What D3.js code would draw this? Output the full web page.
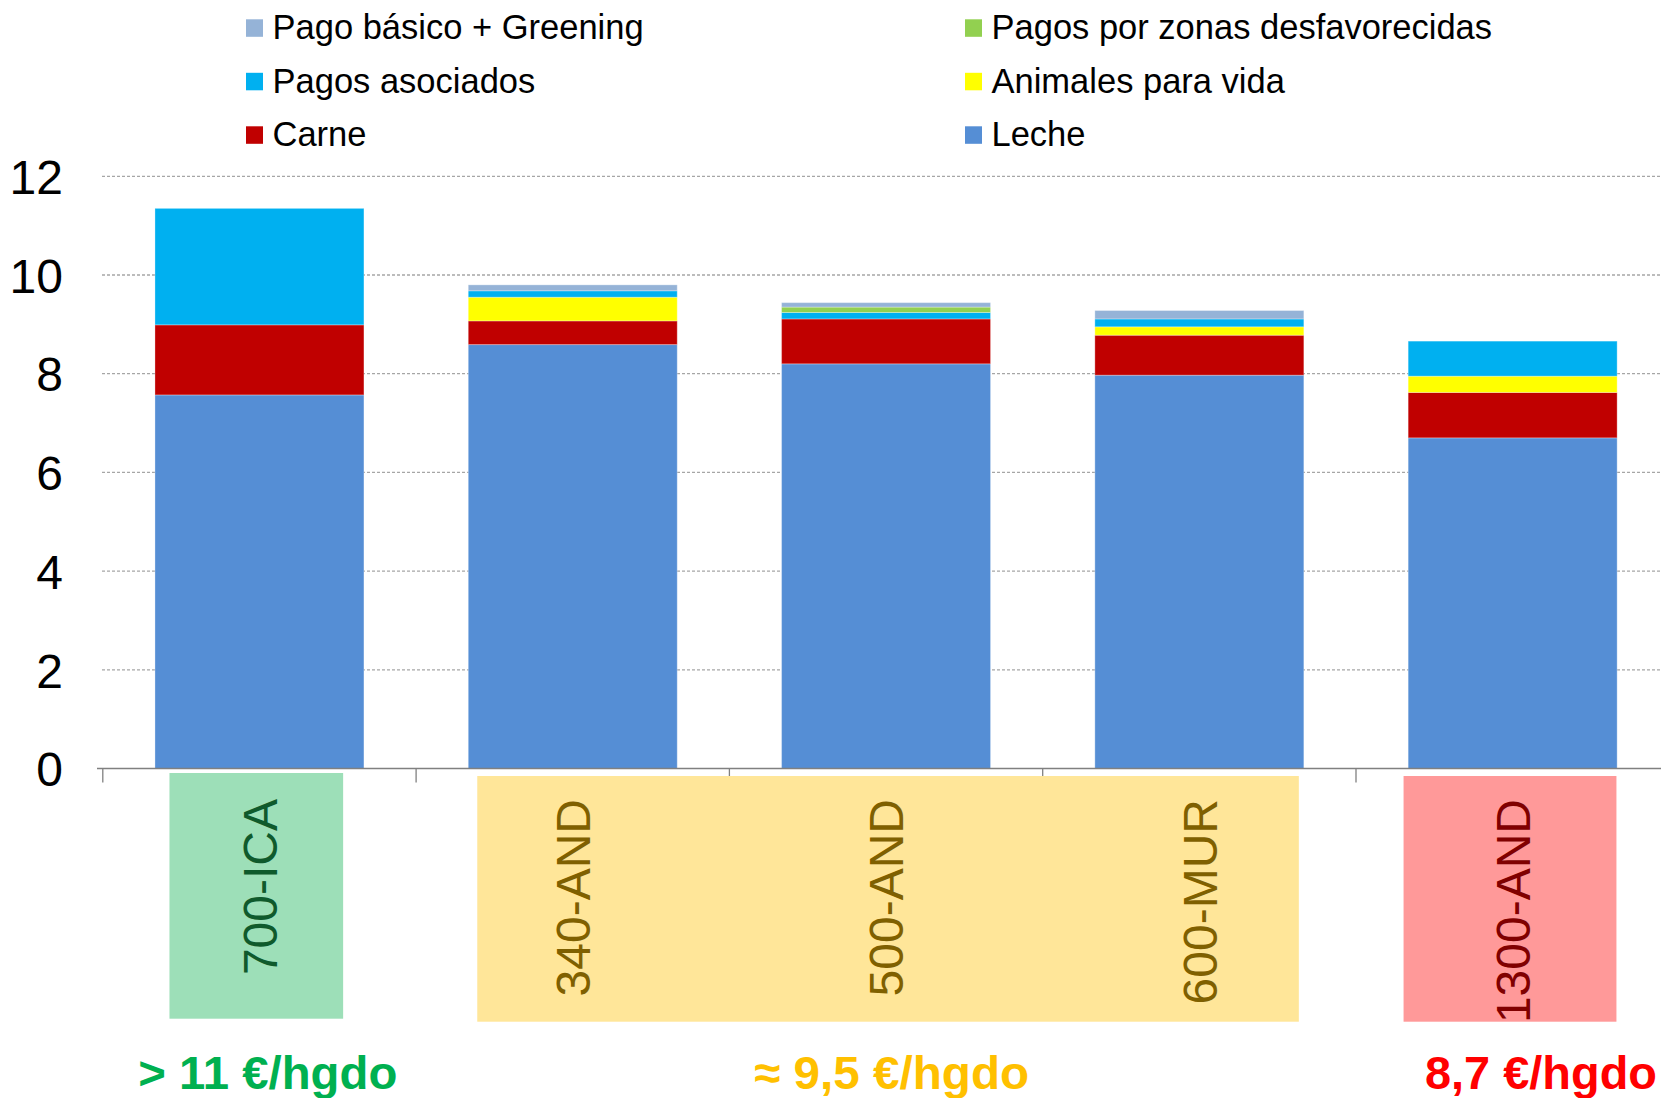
<!DOCTYPE html>
<html>
<head>
<meta charset="utf-8">
<script src="https://cdnjs.cloudflare.com/ajax/libs/d3/7.8.5/d3.min.js"></script>
<style>
  body { margin: 0; background: #fff; }
  svg { display: block; font-family: "Liberation Sans", Arial, sans-serif; }
</style>
</head>
<body>
<svg class="svgChart"></svg>
<script>
// farms (x axis) and the stacked payments, bottom to top, in €/hgdo
var categories = ["700-ICA", "340-AND", "500-AND", "600-MUR", "1300-AND"];
var leche     = [7.57, 8.59, 8.20, 7.97, 6.70];
var carne     = [1.42, 0.48, 0.91, 0.81, 0.92];
var animales  = [0.00, 0.48, 0.00, 0.17, 0.33];
var asociados = [2.36, 0.13, 0.13, 0.16, 0.71];
var zonas     = [0.00, 0.00, 0.11, 0.00, 0.00];
var basico    = [0.00, 0.12, 0.09, 0.17, 0.00];

var seriesNames = ["Leche", "Carne", "Animales para vida", "Pagos asociados",
                   "Pagos por zonas desfavorecidas", "Pago básico + Greening"];
var seriesValues = [leche, carne, animales, asociados, zonas, basico];
var seriesColors = ["#558ed5", "#c00000", "#ffff00", "#00b0f0", "#92d050", "#95b3d7"];

// legend reads left to right, top to bottom
var legendOrder = ["Pago básico + Greening", "Pagos por zonas desfavorecidas",
                   "Pagos asociados", "Animales para vida", "Carne", "Leche"];

var yTicks = [0, 2, 4, 6, 8, 10, 12];

// price groups shown under the axis
var groups = [
  {first: 0, last: 0, fill: "#9ddfb8", ink: "#0f5a2c", price: "> 11 €/hgdo", priceColor: "#00b050"},
  {first: 1, last: 3, fill: "#ffe699", ink: "#7f6000", price: "≈ 9,5 €/hgdo", priceColor: "#ffc000"},
  {first: 4, last: 4, fill: "#ff9999", ink: "#800000", price: "8,7 €/hgdo", priceColor: "#ff0000"}
];

var W = 1661, H = 1098;
var svg = d3.select(".svgChart").attr("width", W).attr("height", H);

var x = d3.scaleBand()
  .domain(categories)
  .range([102.8, 1669.3])
  .paddingInner(0.333)
  .paddingOuter(0.1665);

var y = d3.scaleLinear().domain([0, 12]).range([768.5, 176.3]);

// table for d3.stack
var table = categories.map(function (c, i) {
  var row = {cat: c};
  seriesNames.forEach(function (s, j) { row[s] = seriesValues[j][i]; });
  return row;
});
var stacked = d3.stack().keys(seriesNames)(table);
var color = d3.scaleOrdinal().domain(seriesNames).range(seriesColors);

// gridlines
svg.append("g")
  .selectAll("line")
  .data(yTicks.filter(function (d) { return d > 0; }))
  .enter().append("line")
    .attr("x1", 102).attr("x2", W)
    .attr("y1", function (d) { return y(d); })
    .attr("y2", function (d) { return y(d); })
    .attr("stroke", "#a6a6a6")
    .attr("stroke-width", 1.3)
    .attr("stroke-dasharray", "3,2");

// y labels
var yAxis = d3.axisLeft(y).tickValues(yTicks).tickSize(0).tickPadding(0);
var gy = svg.append("g").attr("transform", "translate(63,0)").call(yAxis);
gy.select(".domain").remove();
gy.selectAll("text")
  .attr("font-size", 48)
  .attr("font-family", "Liberation Sans, Arial, sans-serif")
  .attr("fill", "#000")
  .attr("dy", "0.36em");

// bars
svg.append("g")
  .selectAll("g")
  .data(stacked)
  .enter().append("g")
    .attr("fill", function (d) { return color(d.key); })
  .selectAll("rect")
  .data(function (d) { return d.filter(function (p) { return p[1] - p[0] > 0; }); })
  .enter().append("rect")
    .attr("x", function (d) { return x(d.data.cat); })
    .attr("y", function (d) { return y(d[1]); })
    .attr("width", x.bandwidth())
    .attr("height", function (d) { return y(d[0]) - y(d[1]); })
    .attr("stroke", "rgba(255,255,255,0.3)")
    .attr("stroke-width", 1);

// x axis line and boundary ticks
var gx = svg.append("g").attr("transform", "translate(0," + y(0) + ")");
gx.append("line")
  .attr("x1", 97).attr("x2", W)
  .attr("stroke", "#808080").attr("stroke-width", 1.3);
var step = x.step();
gx.selectAll("line.tick")
  .data(categories)
  .enter().append("line")
    .attr("class", "tick")
    .attr("x1", function (d) { return x(d) - step * 0.1665; })
    .attr("x2", function (d) { return x(d) - step * 0.1665; })
    .attr("y1", 0).attr("y2", 14)
    .attr("stroke", "#808080").attr("stroke-width", 1.3);

// coloured boxes behind category names
var boxInset = [[14.5, 20.8, 4.5], [9, 5, 7.5], [-4.6, 0.7, 7.5]];
var boxes = svg.append("g");
groups.forEach(function (g, i) {
  var x0 = x(categories[g.first]) + boxInset[i][0];
  var x1 = x(categories[g.last]) + x.bandwidth() - boxInset[i][1];
  boxes.append("rect")
    .attr("x", x0)
    .attr("y", y(0) + boxInset[i][2])
    .attr("width", x1 - x0)
    .attr("height", 245.7)
    .attr("fill", g.fill);
});

// rotated category names
function inkFor(i) {
  for (var k = 0; k < groups.length; k++) {
    if (i >= groups[k].first && i <= groups[k].last) return groups[k].ink;
  }
  return "#000";
}
svg.append("g")
  .selectAll("text")
  .data(categories)
  .enter().append("text")
    .attr("transform", function (d) {
      var cx = x(d) + x.bandwidth() / 2 + 17.3;
      return "translate(" + cx + ",799) rotate(-90)";
    })
    .attr("text-anchor", "end")
    .attr("font-size", 48)
    .attr("fill", function (d, i) { return inkFor(i); })
    .text(function (d) { return d; });

// price notes
var priceX = [138.3, 754.2, 1425];
var priceLen = [259, 275, 232];
svg.append("g")
  .selectAll("text")
  .data(groups)
  .enter().append("text")
    .attr("x", function (d, i) { return priceX[i]; })
    .attr("y", 1089)
    .attr("font-size", 47)
    .attr("font-weight", "bold")
    .attr("fill", function (d) { return d.priceColor; })
    .attr("textLength", function (d, i) { return priceLen[i]; })
    .attr("lengthAdjust", "spacingAndGlyphs")
    .text(function (d) { return d.price; });

// legend
var legend = svg.append("g")
  .selectAll("g")
  .data(legendOrder)
  .enter().append("g")
    .attr("transform", function (d, i) {
      var col = i % 2, row = Math.floor(i / 2);
      return "translate(" + (246 + col * 719) + "," + (19.3 + row * 53.5) + ")";
    });
legend.append("rect")
  .attr("width", 17).attr("height", 17.5)
  .attr("fill", function (d) { return color(d); });
legend.append("text")
  .attr("x", 26.5).attr("y", 20)
  .attr("font-size", 34.5)
  .attr("fill", "#000")
  .text(function (d) { return d; });
</script>
</body>
</html>
